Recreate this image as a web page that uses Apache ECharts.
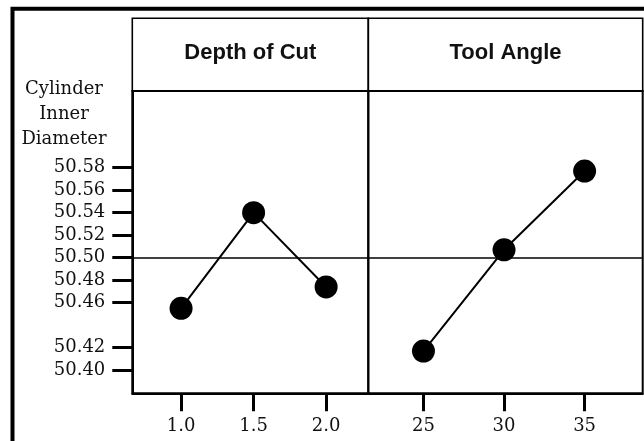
<!DOCTYPE html>
<html>
<head>
<meta charset="utf-8">
<script src="https://cdn.jsdelivr.net/npm/echarts@6/dist/echarts.min.js"></script>
<style>html,body{margin:0;padding:0;background:#fff}#c{width:644px;height:441px}</style>
</head>
<body>
<div id="c"></div>
<script>
// ---- data ----
const panelTitles = ['Depth of Cut', 'Tool Angle'];
const depthLevels = [1.0, 1.5, 2.0];
const depthMeans = [50.455, 50.540, 50.474];
const angleLevels = [25, 30, 35];
const angleMeans = [50.417, 50.507, 50.577];
const grandMean = 50.497;
const yTickValues = [50.40, 50.42, 50.46, 50.48, 50.50, 50.52, 50.54, 50.56, 50.58];
const yName = 'Cylinder\nInner\nDiameter';

// ---- layout ----
const L = { leftX: 132.3, midX: 368.3, rightX: 642.7, stripTop: 18.3, plotTop: 91, plotBottom: 393.3 };
const serif = 'DejaVu Serif';
const chart = echarts.init(document.getElementById('c'));

function xAxisFor(idx, levels, min, max, digits) {
  return {
    type: 'value', gridIndex: idx, min: min, max: max,
    axisLine: { show: true, lineStyle: { color: '#000', width: 2 } },
    axisTick: { show: true, inside: false, length: 18, customValues: levels, lineStyle: { color: '#000', width: 3 } },
    axisLabel: { customValues: levels, formatter: v => v.toFixed(digits), margin: 24,
      fontFamily: serif, fontSize: 18, color: '#111' },
    splitLine: { show: false }
  };
}
function yAxisFor(idx, showLabels) {
  return {
    type: 'value', gridIndex: idx, min: 50.3795, max: 50.6481,
    axisLine: { show: showLabels, lineStyle: { color: '#000', width: 2 } },
    axisTick: { show: showLabels, inside: false, length: 20, customValues: yTickValues, lineStyle: { color: '#000', width: 3 } },
    axisLabel: { show: showLabels, customValues: yTickValues, formatter: v => v.toFixed(2), margin: 27,
      fontFamily: serif, fontSize: 18, color: '#111' },
    splitLine: { show: false }
  };
}
function seriesFor(idx, levels, means) {
  return {
    type: 'line', xAxisIndex: idx, yAxisIndex: idx,
    data: levels.map((x, i) => [x, means[i]]),
    symbol: 'circle', symbolSize: 23,
    itemStyle: { color: '#000' },
    lineStyle: { color: '#000', width: 2 },
    silent: true, animation: false, z: 3,
    markLine: { silent: true, symbol: 'none', label: { show: false },
      lineStyle: { color: '#000', width: 1.5, type: 'solid' },
      data: [{ yAxis: grandMean }] }
  };
}

const stripH = L.plotTop - L.stripTop;
const option = {
  animation: false,
  grid: [
    { left: L.leftX, top: L.plotTop, width: L.midX - L.leftX, height: L.plotBottom - L.plotTop,
      show: true, borderColor: '#000', borderWidth: 2, containLabel: false },
    { left: L.midX, top: L.plotTop, width: L.rightX - L.midX, height: L.plotBottom - L.plotTop,
      show: true, borderColor: '#000', borderWidth: 2, containLabel: false }
  ],
  xAxis: [
    xAxisFor(0, depthLevels, 0.6637, 2.2908, 1),
    xAxisFor(1, angleLevels, 21.577, 38.605, 0)
  ],
  yAxis: [yAxisFor(0, true), yAxisFor(1, false)],
  series: [seriesFor(0, depthLevels, depthMeans), seriesFor(1, angleLevels, angleMeans)],
  graphic: [
    { type: 'rect', silent: true, z: 10,
      shape: { x: 12.5, y: 8.7, width: 700, height: 500 },
      style: { fill: 'none', stroke: '#000', lineWidth: 4 } },
    { type: 'rect', silent: true, z: 10,
      shape: { x: L.leftX, y: L.stripTop, width: L.midX - L.leftX, height: stripH },
      style: { fill: 'none', stroke: '#000', lineWidth: 1.6 } },
    { type: 'rect', silent: true, z: 10,
      shape: { x: L.midX, y: L.stripTop, width: L.rightX - L.midX, height: stripH },
      style: { fill: 'none', stroke: '#000', lineWidth: 1.6 } },
    { type: 'text', silent: true, z: 11,
      x: (L.leftX + L.midX) / 2, y: L.stripTop + stripH / 2 - 1.5,
      style: { text: panelTitles[0], fontFamily: 'Liberation Sans', fontWeight: 'bold', fontSize: 22,
        fill: '#111', align: 'center', verticalAlign: 'middle' } },
    { type: 'text', silent: true, z: 11,
      x: (L.midX + L.rightX) / 2, y: L.stripTop + stripH / 2 - 1.5,
      style: { text: panelTitles[1], fontFamily: 'Liberation Sans', fontWeight: 'bold', fontSize: 22,
        fill: '#111', align: 'center', verticalAlign: 'middle' } },
    { type: 'text', silent: true, z: 11,
      x: 64, y: 114,
      style: { text: yName, fontFamily: serif, fontSize: 18, lineHeight: 25,
        fill: '#111', align: 'center', verticalAlign: 'middle' } }
  ]
};
chart.setOption(option);
</script>
</body>
</html>
